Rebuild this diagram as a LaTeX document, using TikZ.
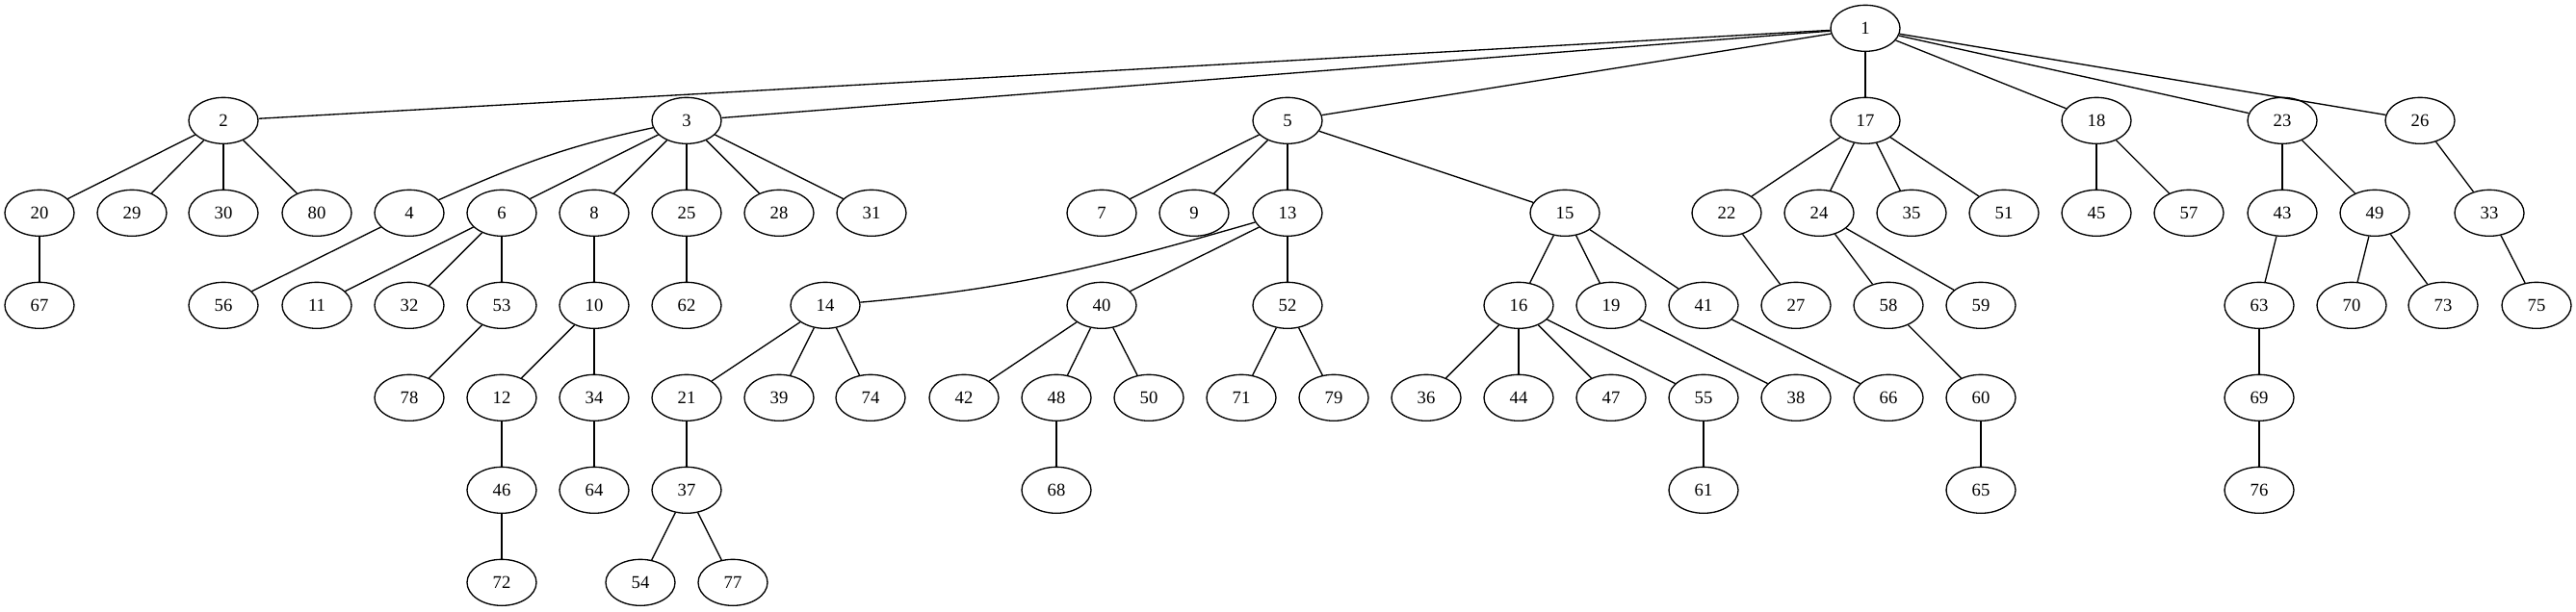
\documentclass[tikz,border=0pt]{standalone}
\usepackage{fontspec}
\setmainfont{Liberation Serif}
\usetikzlibrary{shapes.geometric}
\begin{document}
\begin{tikzpicture}[x=0.75pt,y=-72pt,
  v/.style={draw,ellipse,line width=1pt,minimum width=54pt,minimum height=36pt,inner sep=0pt,font=\fontsize{14}{16}\selectfont},
  e/.style={line width=1pt}]
\path[use as bounding box] (0pt,22pt) rectangle (2006.25pt,-454.25pt);
\foreach \n/\x/\r in {
 1/1937/0,
 2/232/1, 3/713/1, 5/1337/1, 17/1937/1, 18/2177/1, 23/2370/1, 26/2513/1,
 20/41/2, 29/137/2, 30/232/2, 80/329/2, 4/425/2, 6/521/2, 8/617/2, 25/713/2, 28/809/2, 31/905/2,
 7/1144/2, 9/1240/2, 13/1337/2, 15/1625/2, 22/1793/2, 24/1889/2, 35/1985/2, 51/2081/2,
 45/2177/2, 57/2273/2, 43/2370/2, 49/2466/2, 33/2585/2,
 67/41/3, 56/232/3, 11/329/3, 32/425/3, 53/521/3, 10/617/3, 62/713/3, 14/857/3, 40/1144/3,
 52/1337/3, 16/1577/3, 19/1673/3, 41/1769/3, 27/1865/3, 58/1961/3, 59/2057/3, 63/2346/3,
 70/2442/3, 73/2537/3, 75/2634/3,
 78/425/4, 12/521/4, 34/617/4, 21/713/4, 39/809/4, 74/904/4, 42/1001/4, 48/1097/4, 50/1193/4,
 71/1289/4, 79/1385/4, 36/1481/4, 44/1577/4, 47/1673/4, 55/1769/4, 38/1865/4, 66/1961/4,
 60/2057/4, 69/2346/4,
 46/521/5, 64/617/5, 37/713/5, 68/1097/5, 61/1769/5, 65/2057/5, 76/2346/5,
 72/521/6, 54/665/6, 77/761/6}
 \node[v] (n\n) at (\x,\r) {\n};
\foreach \a/\b in {
 1/2, 1/3, 1/5, 1/17, 1/18, 1/23, 1/26,
 2/20, 2/29, 2/30, 2/80,
 3/6, 3/8, 3/25, 3/28, 3/31,
 5/7, 5/9, 5/13, 5/15,
 17/22, 17/24, 17/35, 17/51,
 18/45, 18/57, 23/43, 23/49, 26/33,
 20/67, 4/56, 6/11, 6/32, 6/53, 8/10, 25/62,
 13/40, 13/52, 15/16, 15/19, 15/41,
 22/27, 24/58, 24/59, 43/63, 49/70, 49/73, 33/75,
 53/78, 10/12, 10/34, 14/21, 14/39, 14/74,
 40/42, 40/48, 40/50, 52/71, 52/79,
 16/36, 16/44, 16/47, 16/55, 19/38, 41/66, 58/60,
 63/69, 12/46, 34/64, 21/37, 48/68, 55/61, 60/65, 69/76,
 46/72, 37/54, 37/77}
 \draw[e] (n\a) -- (n\b);
\draw[e] (n3) to[out=192,in=24] (n4);
\draw[e] (n13) to[out=196,in=5] (n14);
\end{tikzpicture}
\end{document}
